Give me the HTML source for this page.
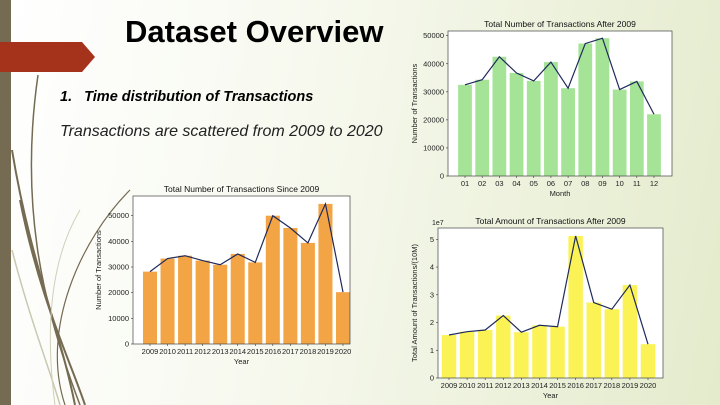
<!DOCTYPE html>
<html><head><meta charset="utf-8"><style>
body{margin:0;width:720px;height:405px;overflow:hidden;font-family:"Liberation Sans",sans-serif}
#slide{position:relative;width:720px;height:405px;background:linear-gradient(100deg,#ffffff 0%,#f7f9ef 40%,#e4ebcc 100%)}
.t{position:absolute;white-space:nowrap;color:#000}
</style></head><body>
<div id="slide">
<svg width="720" height="405" style="position:absolute;left:0;top:0">
<rect x="0" y="0" width="11" height="405" fill="#756a52"/>
<polygon points="0,42 82,42 95,57 82,72 0,72" fill="#a5321a"/>
<g fill="none" stroke="#756a52">
<path d="M38,75 C20,200 40,300 80,405" stroke-width="1.5"/>
<path d="M12,150 C30,260 60,330 75,405" stroke-width="2"/>
<path d="M20,200 C40,300 70,360 85,405" stroke-width="2"/>
<path d="M130,190 C80,240 40,330 65,405" stroke-width="1.2"/>
<path d="M12,250 C30,320 50,370 60,405" stroke="#c9c8b0" stroke-width="1.5"/>
<path d="M80,210 C50,260 45,330 55,405" stroke="#d0cfb8" stroke-width="1"/>
</g>
</svg>
<div class="t" style="left:125px;top:14px;font-size:31px;font-weight:bold">Dataset Overview</div>
<div class="t" style="left:60px;top:89px;font-size:14.5px;font-weight:bold;font-style:italic">1.&nbsp;&nbsp;&nbsp;Time distribution of Transactions</div>
<div class="t" style="left:60px;top:123px;font-size:16px;font-style:italic;color:#222">Transactions are scattered from 2009 to 2020</div>
<svg id="ch" width="720" height="405" style="position:absolute;left:0;top:0" font-family="Liberation Sans, sans-serif"></svg>
</div>
<script>
const months=["01","02","03","04","05","06","07","08","09","10","11","12"];
const monthCounts=[32500,34300,42500,36700,33900,40600,31300,47200,49100,30800,33700,22000];
const monthTicks=[0,10000,20000,30000,40000,50000];
const years=["2009","2010","2011","2012","2013","2014","2015","2016","2017","2018","2019","2020"];
const yearCounts=[28200,33300,34400,32500,30900,35100,31800,50000,45200,39400,54600,20200];
const yearTicks=[0,10000,20000,30000,40000,50000];
const yearAmounts=[1.55,1.67,1.73,2.25,1.65,1.9,1.85,5.12,2.72,2.48,3.35,1.22];
const amountTicks=[0,1,2,3,4,5];
const svg=document.getElementById('ch');
const NS='http://www.w3.org/2000/svg';
function mk(tag,at,parent){const e=document.createElementNS(NS,tag);for(const k in at)e.setAttribute(k,at[k]);parent.appendChild(e);return e;}
function chart(o){
 const g=mk('g',{},svg);
 
 
 mk('rect',{x:o.x0,y:o.y0,width:o.x1-o.x0,height:o.y1-o.y0,fill:'#fff'},g);
 const n=o.cats.length, step=(o.c1-o.c0)/(n-1), bw=step*0.8;
 const xs=i=>o.c0+i*step;
 const ys=v=>o.y1-(v-0)/(o.vRef)*(o.y1-o.yRef);
 let pts=[];
 o.vals.forEach((v,i)=>{
  const r=mk('rect',{x:xs(i)-bw/2,y:ys(v),width:bw,height:o.y1-ys(v),fill:o.color},g);
  
  
  pts.push(xs(i)+','+ys(v));
  const t=mk('text',{x:xs(i),y:o.y1+10,'font-size':7.5,'text-anchor':'middle',fill:'#222'},g);t.textContent=o.cats[i];
  
  
  mk('line',{x1:xs(i),x2:xs(i),y1:o.y1,y2:o.y1+2,stroke:'#333','stroke-width':0.6},g);
 });
 const l=mk('polyline',{points:pts.join(' '),fill:'none',stroke:'#1f2a5c','stroke-width':1.2},g);
 
 
 o.ticks.forEach(tk=>{
  const y=ys(tk);
  mk('line',{x1:o.x0-2,x2:o.x0,y1:y,y2:y,stroke:'#333','stroke-width':0.6},g);
  const t=mk('text',{x:o.x0-4,y:y+2.5,'font-size':7.5,'text-anchor':'end',fill:'#222'},g);t.textContent=tk;
  
  
 });
 mk('rect',{x:o.x0,y:o.y0,width:o.x1-o.x0,height:o.y1-o.y0,fill:'none',stroke:'#444','stroke-width':0.7},g);
 const tt=mk('text',{x:(o.x0+o.x1)/2,y:o.y0-4,'font-size':8.5,'text-anchor':'middle',fill:'#111'},g);tt.textContent=o.title;
 
 
 const xl=mk('text',{x:(o.x0+o.x1)/2,y:o.y1+20,'font-size':7.5,'text-anchor':'middle',fill:'#222'},g);xl.textContent=o.xlab;
 
 
 const yl=mk('text',{x:0,y:0,'font-size':7.5,'text-anchor':'middle',fill:'#222',transform:`translate(${o.ylx},${(o.y0+o.y1)/2}) rotate(-90)`},g);yl.textContent=o.ylab;
 
 
 if(o.exp){const e=mk('text',{x:o.x0-6,y:o.y0-3,'font-size':7,fill:'#222'},g);e.textContent=o.exp;
 
 }
}
chart({name:'monthly-chart',x0:448,x1:672,y0:31,y1:176,yRef:35.7,vRef:50000,c0:465,c1:654,cats:months,vals:monthCounts,ticks:monthTicks,color:'#a5e396',title:'Total Number of Transactions After 2009',xlab:'Month',ylab:'Number of Transactions',ylx:417});
chart({name:'yearly-count-chart',x0:133,x1:350,y0:196,y1:344,yRef:215.7,vRef:50000,c0:150,c1:343,cats:years,vals:yearCounts,ticks:yearTicks,color:'#f3a545',title:'Total Number of Transactions Since 2009',xlab:'Year',ylab:'Number of Transactions',ylx:101});
chart({name:'yearly-amount-chart',x0:438,x1:663,y0:228,y1:378,yRef:239.3,vRef:5,c0:449,c1:648,cats:years,vals:yearAmounts,ticks:amountTicks,color:'#fbf356',title:'Total Amount of Transactions After 2009',xlab:'Year',ylab:'Total Amount of Transactions/(10M)',ylx:417,exp:'1e7'});
</script>
</body></html>
